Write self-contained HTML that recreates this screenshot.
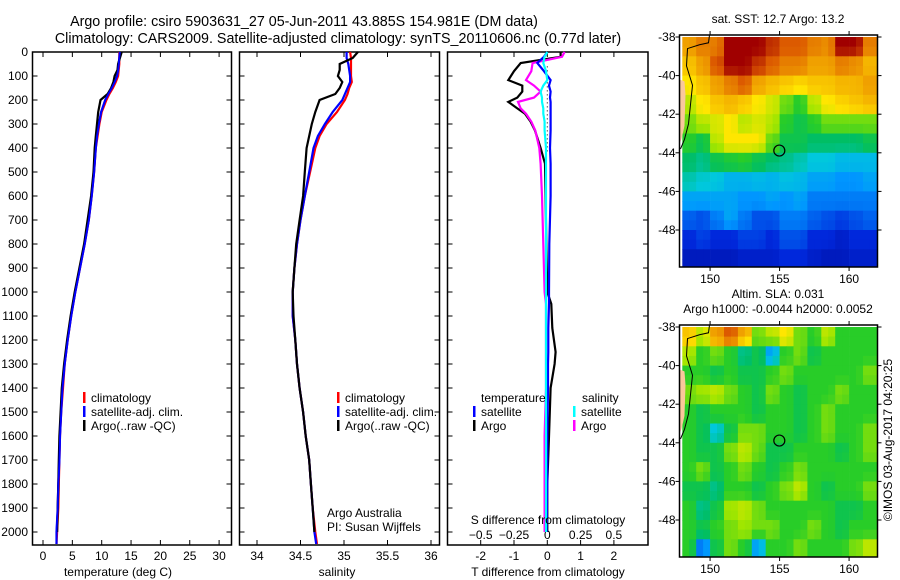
<!DOCTYPE html>
<html><head><meta charset="utf-8">
<style>
html,body{margin:0;padding:0;background:#fff;}
svg{display:block;font-family:"Liberation Sans",sans-serif;}
text{font-size:12px;fill:#000;}
.ttl{font-size:14.3px;}
</style></head>
<body>
<svg id="chart" width="900" height="580" viewBox="0 0 900 580" xmlns="http://www.w3.org/2000/svg">
<text class="ttl" x="304" y="26" text-anchor="middle">Argo profile: csiro 5903631_27 05-Jun-2011 43.885S 154.981E (DM data)</text>
<text class="ttl" x="338" y="43" text-anchor="middle">Climatology: CARS2009. Satellite-adjusted climatology: synTS_20110606.nc (0.77d later)</text>
<g id="g1"></g>
<g id="g2"></g>
<g id="g3"></g>
<g id="g4"></g>
<g id="g5"></g>
<text transform="translate(892,440) rotate(-90)" text-anchor="middle">©IMOS 03-Aug-2017 04:20:25</text>
</svg>
<script>
const depths=[0,25,50,75,100,125,150,175,200,250,300,350,400,500,600,700,800,900,1000,1100,1200,1300,1400,1500,1600,1700,1800,1900,2000,2050];
const tempClim=[13.0,13.0,13.0,12.9,12.8,12.4,11.9,11.3,10.8,10.0,9.6,9.3,9.0,8.7,8.3,7.8,7.1,6.3,5.5,4.8,4.2,3.7,3.4,3.1,2.9,2.8,2.7,2.6,2.4,2.3];
const tempSat=[13.1,13.0,12.9,12.8,12.6,12.2,11.7,11.1,10.6,9.9,9.5,9.2,9.0,8.7,8.3,7.8,7.1,6.3,5.5,4.8,4.2,3.7,3.3,3.1,2.9,2.8,2.6,2.5,2.3,2.3];
const tempArgo=[13.4,13.1,12.8,12.7,12.2,12.0,11.6,11.0,9.8,9.4,9.2,9.0,8.8,8.6,8.2,7.6,7.0,6.2,5.4,4.7,4.1,3.6,3.2,3.0,2.8,2.7,2.6,2.5,2.4,null];
const salClim=[35.07,35.08,35.08,35.08,35.08,35.09,35.06,35.04,35.01,34.92,34.80,34.72,34.67,34.61,34.55,34.50,34.46,34.43,34.41,34.41,34.44,34.46,34.49,34.53,34.56,34.60,34.62,34.64,34.67,34.69];
const salSat=[35.03,35.03,35.05,35.06,35.07,35.07,35.04,35.01,34.98,34.87,34.78,34.70,34.65,34.60,34.55,34.50,34.46,34.43,34.41,34.41,34.44,34.46,34.49,34.53,34.56,34.60,34.62,34.64,34.66,34.68];
const salArgo=[35.16,35.10,34.95,34.95,34.93,34.98,34.95,34.90,34.72,34.67,34.63,34.60,34.57,34.55,34.53,34.49,34.45,34.43,34.41,34.42,34.44,34.46,34.49,34.53,34.56,34.60,34.62,34.64,34.66,null];
const diffDepths=[0,20,46,80,117,140,165,190,208,235,257,290,327,400,465,600,800,1000,1050,1150,1250,1300,1400,1600,1800,2000];
const tDiffSat=[0.0,-0.1,-0.3,-0.1,0.1,0.05,0.1,0.08,0.1,0.1,0.1,0.1,0.1,0.08,0.1,0.1,0.06,0.05,0.05,0.03,0.03,0.02,0.02,0.0,0.0,-0.02];
const tDiffArgo=[0.4,0.4,-0.8,-1.0,-1.17,-0.75,-0.75,-0.9,-1.17,-0.9,-0.67,-0.5,-0.37,-0.2,-0.07,-0.05,-0.03,0.0,0.12,0.15,0.25,0.22,0.1,0.05,0.0,0.0];
const sDiffSat=[0.0,-0.02,-0.03,-0.01,0.0,-0.03,-0.05,-0.04,-0.04,-0.03,-0.03,-0.02,-0.02,-0.01,-0.01,-0.01,-0.01,-0.01,-0.01,-0.01,-0.01,-0.01,-0.01,-0.01,-0.01,-0.01];
const sDiffArgo=[0.13,0.11,-0.11,-0.12,-0.16,-0.1,-0.05,-0.1,-0.22,-0.2,-0.16,-0.12,-0.09,-0.06,-0.05,-0.04,-0.03,-0.02,-0.01,-0.01,-0.01,-0.01,-0.01,-0.02,-0.02,-0.02];
const depthTicks=[0,100,200,300,400,500,600,700,800,900,1000,1100,1200,1300,1400,1500,1600,1700,1800,1900,2000];
const tempTicks=[0,5,10,15,20,25,30];
const salTicks=[34,34.5,35,35.5,36];
const tDiffTicks=[-2,-1,0,1,2];
const sDiffTicks=[-0.5,-0.25,0,0.25,0.5];
const lonTicks=[150,155,160];
const latTicks=[-38,-40,-42,-44,-46,-48];
const mapLons=[148,149,150,151,152,153,154,155,156,157,158,159,160,161];
const mapLats=[-38,-39,-40,-41,-42,-43,-44,-45,-46,-47,-48,-49];
const sstGrid=[
[0.75,0.8,0.8,0.95,0.95,0.95,0.9,0.85,0.85,0.8,0.78,0.95,0.95,0.8],
[0.7,0.75,0.85,0.95,0.95,0.9,0.85,0.8,0.8,0.75,0.75,0.8,0.78,0.72],
[0.65,0.7,0.75,0.8,0.85,0.75,0.72,0.7,0.68,0.7,0.7,0.72,0.72,0.75],
[0.6,0.65,0.7,0.72,0.7,0.65,0.62,0.55,0.5,0.6,0.65,0.68,0.7,0.72],
[0.55,0.6,0.62,0.65,0.6,0.62,0.6,0.5,0.45,0.5,0.55,0.55,0.55,0.55],
[0.5,0.45,0.6,0.65,0.65,0.65,0.55,0.45,0.45,0.42,0.42,0.42,0.42,0.45],
[0.42,0.4,0.45,0.48,0.5,0.45,0.42,0.4,0.38,0.35,0.35,0.33,0.33,0.33],
[0.38,0.36,0.35,0.32,0.32,0.33,0.32,0.34,0.33,0.3,0.3,0.28,0.28,0.3],
[0.3,0.3,0.3,0.3,0.28,0.28,0.3,0.28,0.3,0.25,0.25,0.25,0.25,0.25],
[0.22,0.2,0.25,0.3,0.25,0.2,0.2,0.25,0.25,0.22,0.2,0.18,0.2,0.22],
[0.15,0.18,0.15,0.15,0.18,0.18,0.15,0.2,0.2,0.15,0.15,0.12,0.15,0.15],
[0.1,0.1,0.1,0.1,0.12,0.12,0.12,0.15,0.15,0.12,0.1,0.1,0.12,0.12]];
const slaGrid=[
[0.7,0.6,0.75,0.85,0.75,0.55,0.6,0.65,0.55,0.5,0.6,0.5,0.5,0.5],
[0.6,0.5,0.55,0.5,0.4,0.45,0.3,0.5,0.55,0.45,0.5,0.5,0.5,0.5],
[0.5,0.5,0.45,0.5,0.45,0.45,0.5,0.55,0.5,0.5,0.5,0.5,0.5,0.55],
[0.55,0.58,0.6,0.55,0.5,0.45,0.55,0.5,0.45,0.5,0.5,0.55,0.5,0.5],
[0.5,0.45,0.5,0.5,0.5,0.45,0.5,0.5,0.45,0.5,0.55,0.5,0.5,0.5],
[0.5,0.45,0.35,0.45,0.55,0.55,0.5,0.5,0.45,0.5,0.55,0.5,0.5,0.55],
[0.5,0.45,0.45,0.55,0.6,0.55,0.45,0.45,0.5,0.5,0.5,0.45,0.5,0.55],
[0.5,0.55,0.45,0.5,0.55,0.5,0.45,0.5,0.55,0.5,0.5,0.5,0.5,0.5],
[0.45,0.45,0.4,0.5,0.5,0.45,0.5,0.55,0.6,0.5,0.45,0.5,0.5,0.55],
[0.5,0.4,0.45,0.58,0.6,0.55,0.5,0.5,0.5,0.5,0.5,0.45,0.45,0.5],
[0.5,0.45,0.5,0.55,0.58,0.55,0.55,0.5,0.5,0.55,0.5,0.45,0.5,0.5],
[0.5,0.25,0.45,0.55,0.5,0.3,0.5,0.5,0.55,0.5,0.5,0.5,0.55,0.6]];
const floatLon=154.981, floatLat=-43.885;

const NS='http://www.w3.org/2000/svg';
function mk(parent,tag,attrs,txt){const e=document.createElementNS(NS,tag);for(const k in attrs)e.setAttribute(k,attrs[k]);if(txt!==undefined)e.textContent=txt;parent.appendChild(e);return e;}
const Y0=52,Y1=545;
const yD=d=>52+d*0.24;
function frame(g,x0,x1,name){
  const r=mk(g,'rect',{x:x0,y:Y0,width:x1-x0,height:Y1-Y0,fill:'none',stroke:'#000','stroke-width':1.5});
  
  
  depthTicks.forEach(d=>{const y=yD(d);
    mk(g,'line',{x1:x0,x2:x0+5,y1:y,y2:y,stroke:'#000'});
    mk(g,'line',{x1:x1-5,x2:x1,y1:y,y2:y,stroke:'#000'});
  });
}
function xTicks(g,ticks,fx,ly,labels){
  ticks.forEach((t,i)=>{const x=fx(t);
    mk(g,'line',{x1:x,x2:x,y1:Y1,y2:Y1-5,stroke:'#000'});
    mk(g,'line',{x1:x,x2:x,y1:Y0,y2:Y0+5,stroke:'#000'});
    const tx=mk(g,'text',{x:x,y:ly,'text-anchor':'middle'},labels?labels[i]:String(t));
    
    
  });
}
function line(g,xs,ds,fx,color,name,w){
  const pts=[];xs.forEach((v,i)=>{if(v!==null)pts.push(fx(v).toFixed(1)+','+yD(ds[i]).toFixed(1));});
  const p=mk(g,'polyline',{points:pts.join(' '),fill:'none',stroke:color,'stroke-width':w||2.2,'stroke-linejoin':'miter'});
  
  
}
function legend(g,x,y,color,label){
  mk(g,'rect',{x:x,y:y-10,width:2.5,height:11,fill:color});
  const t=mk(g,'text',{x:x+8,y:y},label);
  
  
}
// Panel 1
const g1=document.getElementById('g1');
const fT=t=>43+t*5.87;
frame(g1,32.5,231.5,'temperature-axes');
depthTicks.forEach(d=>{const t=mk(g1,'text',{x:28,y:yD(d)+4,'text-anchor':'end'},String(d));
  
  });
xTicks(g1,tempTicks,fT,560);
line(g1,tempClim,depths,fT,'#f00','temp-climatology-line');
line(g1,tempSat,depths,fT,'#00f','temp-satellite-line');
line(g1,tempArgo,depths,fT,'#000','temp-argo-line');
line(g1,tempSat,depths,fT,'#00f','temp-satellite-line-top',1.8);
legend(g1,83,402,'#f00','climatology');
legend(g1,83,416,'#00f','satellite-adj. clim.');
legend(g1,83,430,'#000','Argo(..raw -QC)');
mk(g1,'text',{x:118,y:576,'text-anchor':'middle',},'temperature (deg C)');
// Panel 2
const g2=document.getElementById('g2');
const fS=s=>257+(s-34)*87;
frame(g2,239.5,439.5,'salinity-axes');
xTicks(g2,salTicks,fS,560);
line(g2,salClim,depths,fS,'#f00','sal-climatology-line');
line(g2,salSat,depths,fS,'#00f','sal-satellite-line');
line(g2,salArgo,depths,fS,'#000','sal-argo-line');
legend(g2,337,402,'#f00','climatology');
legend(g2,337,416,'#00f','satellite-adj. clim.');
legend(g2,337,430,'#000','Argo(..raw -QC)');
mk(g2,'text',{x:327,y:517,},'Argo Australia');
mk(g2,'text',{x:327,y:531,},'PI: Susan Wijffels');
mk(g2,'text',{x:337,y:576,'text-anchor':'middle',},'salinity');
// Panel 3
const g3=document.getElementById('g3');
const fTd=t=>547.3+t*33.3;
const fSd=s=>547.3+s*133.2;
frame(g3,447.5,648,'difference-axes');
xTicks(g3,tDiffTicks,fTd,560);
sDiffTicks.forEach(s=>{const t=mk(g3,'text',{x:fSd(s),y:539,'text-anchor':'middle'},String(s).replace('-','−'));
  
  });
mk(g3,'line',{x1:fTd(0),x2:fTd(0),y1:yD(60),y2:yD(420),stroke:'#000','stroke-dasharray':'1,3',});
line(g3,tDiffArgo,diffDepths,fTd,'#000','t-diff-argo-line');
line(g3,sDiffArgo,diffDepths,fSd,'#f0f','s-diff-argo-line');
line(g3,tDiffSat,diffDepths,fTd,'#00f','t-diff-satellite-line');
line(g3,sDiffSat,diffDepths,fSd,'#0ff','s-diff-satellite-line');
mk(g3,'text',{x:481,y:402,},'temperature');
legend(g3,473,416,'#00f','satellite');
legend(g3,473,430,'#000','Argo');
mk(g3,'text',{x:582,y:402,},'salinity');
legend(g3,573,416,'#0ff','satellite');
legend(g3,573,430,'#f0f','Argo');
mk(g3,'text',{x:548,y:524,'text-anchor':'middle',},'S difference from climatology');
mk(g3,'text',{x:548,y:576,'text-anchor':'middle',},'T difference from climatology');
// Maps
const cmapStops=[[0,0,0,130],[0.15,0,40,220],[0.28,0,150,255],[0.35,0,200,220],[0.42,0,190,100],[0.5,40,205,40],[0.58,160,230,0],[0.65,255,230,0],[0.75,240,160,0],[0.85,220,90,0],[0.95,160,0,0],[1,150,0,0]];
function cmap(v){v=Math.max(0,Math.min(1,v));
  for(let k=1;k<cmapStops.length;k++){const a=cmapStops[k-1],b=cmapStops[k];
    if(v<=b[0]){const f=(v-a[0])/(b[0]-a[0]);
      return 'rgb('+[1,2,3].map(c=>Math.round(a[c]+(b[c]-a[c])*f)).join(',')+')';}}
  return 'rgb(150,0,0)';}
function drawMap(g,top,grid,titles,name){
  const x0=679.5,x1=877.5,y0=top,y1=top+232;
  const fx=l=>x0+(l-147.8)*13.9, fy=la=>y0+2+(-38-la)*19.3;
  const N=2;
  grid.forEach((row,i)=>row.forEach((v,j)=>{
    for(let a=0;a<N;a++)for(let b=0;b<N;b++){
      const i2=Math.min(grid.length-1,i+(a?1:0)), j2=Math.min(row.length-1,j+(b?1:0));
      const vv=(v*2+grid[i2][j])/3*0.5+(v*2+grid[i][j2])/3*0.5;
      const lx=mapLons[j]+b/N, ly=mapLats[i]-a/N;
      const xa=Math.max(x0,fx(lx)), xb=Math.min(x1,fx(lx+1/N)), ya=Math.max(y0,fy(ly)), yb=Math.min(y1,fy(ly-1/N));
      if(xb>xa&&yb>ya){const c=mk(g,'rect',{x:xa.toFixed(1),y:ya.toFixed(1),width:(xb-xa+0.4).toFixed(1),height:(yb-ya+0.4).toFixed(1),fill:cmap(vv)});
        
        }
    }
  }));
  mk(g,'path',{d:`M${x0},${fy(-40.2)} L${x0+5},${fy(-40.3)} L${x0+6},${fy(-41)} L${x0+5},${fy(-42.6)} L${x0+2},${fy(-43.3)} L${x0},${fy(-43.5)} Z`,fill:'#f9c89b',});
  mk(g,'path',{d:`M${x0+30},${y0} L${x0+29},${fy(-38.3)} L${x0+20},${fy(-38.4)} L${x0+8},${fy(-38.6)} L${x0+7},${fy(-39.5)} L${x0+13},${fy(-40.5)} L${x0+11},${fy(-41.5)} L${x0+9},${fy(-42.5)} L${x0+5},${fy(-43.3)} L${x0+1},${fy(-43.8)}`,fill:'none',stroke:'#000','stroke-width':1,});
  mk(g,'rect',{x:x0,y:y0,width:x1-x0,height:y1-y0,fill:'none',stroke:'#000','stroke-width':1.5,});
  const c=mk(g,'circle',{cx:fx(floatLon),cy:fy(floatLat),r:5.5,fill:'none',stroke:'#000','stroke-width':1.2});
  
  
  latTicks.forEach(la=>{const y=fy(la);
    mk(g,'line',{x1:x0-4,x2:x0,y1:y,y2:y,stroke:'#000'});mk(g,'line',{x1:x1,x2:x1+4,y1:y,y2:y,stroke:'#000'});
    const t=mk(g,'text',{x:x0-4,y:y+4,'text-anchor':'end'},String(la));
    
    });
  lonTicks.forEach(lo=>{const x=fx(lo);
    mk(g,'line',{x1:x,x2:x,y1:y1,y2:y1+4,stroke:'#000'});mk(g,'line',{x1:x,x2:x,y1:y0-4,y2:y0,stroke:'#000'});
    const t=mk(g,'text',{x:x,y:y1+16,'text-anchor':'middle'},String(lo));
    
    });
  titles.forEach((tt,k)=>{const t=mk(g,'text',{x:778,y:top-(titles.length-k)*15+3,'text-anchor':'middle'},tt);
    
    });
}
drawMap(document.getElementById('g4'),35,sstGrid,['sat. SST: 12.7 Argo: 13.2'],'sst-map');
drawMap(document.getElementById('g5'),325,slaGrid,['Altim. SLA: 0.031','Argo h1000: -0.0044 h2000: 0.0052'],'sla-map');
</script>
</body></html>
